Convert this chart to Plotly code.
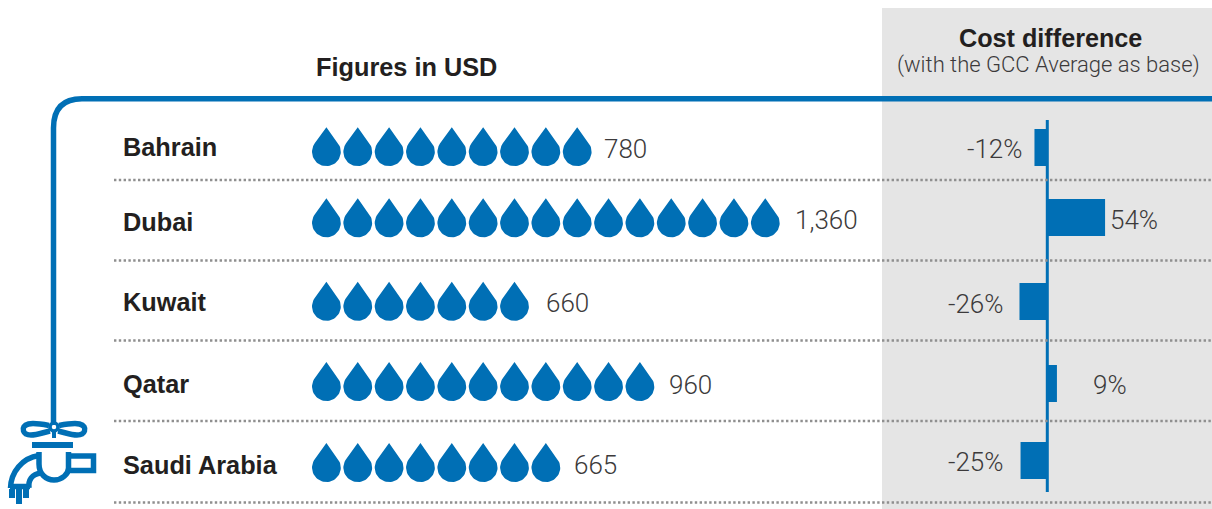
import math
import plotly.graph_objects as go

countries = ["Bahrain", "Dubai", "Kuwait", "Qatar", "Saudi Arabia"]
cost_usd = [780, 1360, 660, 960, 665]
drop_counts = [9, 15, 7, 11, 8]
cost_diff_pct = [-12, 54, -26, 9, -25]
diff_labels = ["-12%", "54%", "-26%", "9%", "-25%"]

# Row layout, in figure pixels
W, H = 1212, 509
ROW_Y = [146.7, 217.8, 301.3, 381.5, 462.5]
NAME_Y = [147, 222, 302, 384, 465]
VALUE_Y = [148.5, 220, 303, 384.5, 464.5]
VALUE_GAP = [11, 14, 16, 14, 13]
BAR_ROW_Y = [147.5, 217.5, 301.5, 383.5, 460.5]
DIFF_LABEL_Y = [149, 220, 304, 384.5, 461.5]
DIFF_LABEL_X = [1024, 1109, 1005, 1092, 1005]
SEPARATORS = [180, 260.5, 340.5, 421, 502.5]
DROP_X0 = 326.4
DROP_STEP = 31.35
ZERO_X = 1047.3
PX_PER_PCT = 1.07

BLUE = "#006FB5"
TEXT = "#231F20"
NUM = "#3C3A3B"
BOLD_FONT = "Liberation Sans"
LIGHT_FONT = "Roboto"


def drop_outline(radius=14.4, height=39):
    """Teardrop around (0, 0): a round base with straight sides running up to the tip."""
    tip_y = -height / 2
    centre_y = height / 2 - radius
    dist = centre_y - tip_y
    tangent = math.asin(radius / dist)
    pts = [(0.0, tip_y)]
    steps = 40
    sweep = math.pi + 2 * tangent
    for k in range(steps + 1):
        a = -tangent + sweep * k / steps
        pts.append((radius * math.cos(a), centre_y + radius * math.sin(a)))
    pts.append((0.0, tip_y))
    return pts


DROP_OUTLINE = drop_outline()

fig = go.Figure()

# One filled trace per country, holding a row of drops
for count, cy in zip(drop_counts, ROW_Y):
    xs, ys = [], []
    for i in range(count):
        cx = DROP_X0 + i * DROP_STEP
        xs += [cx + dx for dx, _ in DROP_OUTLINE] + [None]
        ys += [cy + dy for _, dy in DROP_OUTLINE] + [None]
    fig.add_trace(go.Scatter(x=xs, y=ys, mode="lines", fill="toself", fillcolor=BLUE,
                             line=dict(width=0, color=BLUE), hoverinfo="skip",
                             showlegend=False))

# Diverging bars on a percentage axis placed over the grey panel
fig.add_trace(go.Bar(x=cost_diff_pct, y=BAR_ROW_Y, orientation="h", width=37,
                     marker=dict(color=BLUE, line=dict(width=0)), xaxis="x2", yaxis="y",
                     hoverinfo="skip", showlegend=False))

TAP_LINE = dict(color=BLUE, width=5.5)
shapes = [
    dict(type="rect", x0=882, x1=W, y0=8, y1=H, fillcolor="#E5E5E5", line_width=0, layer="below"),
    # Pipe running from the tap up and across the header
    dict(type="path", path="M 53.5 425 L 53.5 128 Q 53.5 98.8 82 98.8 L 1212 98.8",
         line=dict(color=BLUE, width=5.5), layer="below"),
    # Zero rule
    dict(type="line", x0=ZERO_X, x1=ZERO_X, y0=120, y1=492, line=dict(color=BLUE, width=3)),
    # Tap handle: two lobes, the hub and its stem
    dict(type="path", path="M 49 425.5 C 41 424 33 423 28.5 424 C 24 425 22.5 428 23.5 431 "
         "C 24.5 434 28 435 31 435 C 37 435 43 432.5 50 431", line=TAP_LINE),
    dict(type="path", path="M 59 425.5 C 67 424 75 423 79.5 424 C 84 425 85.5 428 84.5 431 "
         "C 83.5 434 80 435 77 435 C 71 435 65 432.5 58 431", line=TAP_LINE),
    dict(type="circle", x0=50, x1=58, y0=423, y1=431, line=dict(color=BLUE, width=3.5)),
    dict(type="rect", x0=52, x1=56, y0=431, y1=438, fillcolor=BLUE, line_width=0),
    dict(type="rect", x0=32, x1=73, y0=442, y1=448, fillcolor=BLUE, line_width=0),
    # Tap body, spout and the pipe socket on the right
    dict(type="path", path="M 39 452 L 39 464 C 39 474 46 480 54 480 C 62 480 68.5 474 68.5 468 L 68.5 452",
         line=TAP_LINE),
    dict(type="path", path="M 39 455.5 C 22 458 11 472 10.5 488 M 10 486.5 L 30 486.5 M 29 488 "
         "C 28 480 32 474 41 473", line=TAP_LINE),
    dict(type="path", path="M 68.5 456 L 93.5 456 L 93.5 470.5 L 68.5 470.5", line=TAP_LINE),
    dict(type="rect", x0=9, x1=15, y0=489, y1=498, fillcolor=BLUE, line_width=0),
    dict(type="rect", x0=16, x1=22, y0=489, y1=504, fillcolor=BLUE, line_width=0),
    dict(type="rect", x0=23, x1=29, y0=489, y1=498, fillcolor=BLUE, line_width=0),
]
for y in SEPARATORS:
    shapes.append(dict(type="line", x0=114, x1=W, y0=y, y1=y,
                       line=dict(color="#8F8F8F", width=2.5, dash="2.4px 2.4px")))

annotations = []


def label(x, y, text, size, family, color, anchor="left", weight=None):
    annotations.append(dict(x=x, y=y, xref="x", yref="y", text=text, showarrow=False,
                            xanchor=anchor, yanchor="middle", borderpad=0,
                            font=dict(size=size, family=family, color=color, weight=weight)))


label(406.5, 67, "Figures in USD", 25.3, BOLD_FONT, TEXT, "center", 700)
label(1050, 38, "Cost difference", 25.2, BOLD_FONT, TEXT, "center", 700)
label(1048.5, 65, "(with the GCC Average as base)", 22, LIGHT_FONT, NUM, "center", 300)

for name, value, count, ny, vy, gap in zip(countries, cost_usd, drop_counts, NAME_Y, VALUE_Y, VALUE_GAP):
    label(122, ny, name, 25.3, BOLD_FONT, TEXT, "left", 700)
    end = DROP_X0 + (count - 1) * DROP_STEP + 14.4
    label(end + gap, vy, f"{value:,}", 26, LIGHT_FONT, NUM, "left", 300)

for text, x, y, pct in zip(diff_labels, DIFF_LABEL_X, DIFF_LABEL_Y, cost_diff_pct):
    label(x, y, text, 26, LIGHT_FONT, NUM, "right" if pct < 0 else "left", 300)

fig.update_layout(
    width=W, height=H, margin=dict(l=0, r=0, t=0, b=0),
    paper_bgcolor="white", plot_bgcolor="rgba(0,0,0,0)",
    shapes=shapes, annotations=annotations, showlegend=False,
    xaxis=dict(range=[0, W], domain=[0, 1], visible=False, fixedrange=True),
    yaxis=dict(range=[H, 0], domain=[0, 1], visible=False, fixedrange=True),
    # Percent axis spanning the same width, with zero on the central rule
    xaxis2=dict(range=[-ZERO_X / PX_PER_PCT, (W - ZERO_X) / PX_PER_PCT], domain=[0, 1],
                overlaying="x", visible=False, fixedrange=True),
)

fig.write_html("out.html", config=dict(displayModeBar=False))
